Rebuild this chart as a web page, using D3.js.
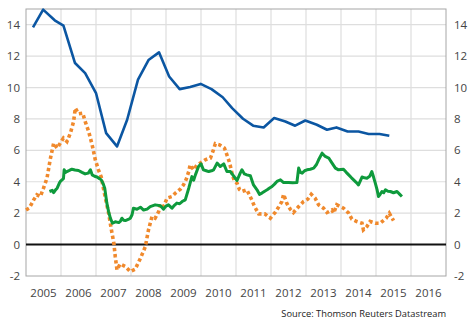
<!DOCTYPE html>
<html><head><meta charset="utf-8">
<script src="https://cdn.jsdelivr.net/npm/d3@7"></script>
<style>body{margin:0;background:#fff}svg{display:block}text{font-family:"Open Sans",sans-serif;fill:#444}</style>
</head><body><svg id="c" width="470" height="322"></svg>
<script>
const yearTicks = [2005,2006,2007,2008,2009,2010,2011,2012,2013,2014,2015,2016];
const valueTicks = [-2,0,2,4,6,8,10,12,14];
const sourceText = "Source: Thomson Reuters Datastream";

const blueSeries = [[2005.2,13.83],[2005.49,14.96],[2005.82,14.28],[2006.07,13.94],[2006.4,11.56],[2006.69,10.92],[2007.0,9.65],[2007.29,7.1],[2007.6,6.25],[2007.89,7.95],[2008.2,10.5],[2008.5,11.75],[2008.8,12.24],[2009.09,10.7],[2009.39,9.9],[2009.69,10.03],[2009.99,10.23],[2010.3,9.9],[2010.62,9.38],[2010.89,8.69],[2011.2,8.01],[2011.49,7.57],[2011.79,7.46],[2012.09,8.06],[2012.41,7.84],[2012.69,7.57],[2012.98,7.9],[2013.31,7.63],[2013.6,7.31],[2013.87,7.46],[2014.19,7.2],[2014.5,7.2],[2014.79,7.04],[2015.1,7.04],[2015.38,6.93]];

const greenSeries = [[2005.67,3.38],[2005.75,3.45],[2005.79,3.31],[2005.85,3.5],[2005.89,3.59],[2005.95,3.9],[2005.98,4.02],[2006.03,4.12],[2006.07,4.2],[2006.09,4.76],[2006.13,4.6],[2006.17,4.65],[2006.24,4.72],[2006.31,4.8],[2006.4,4.75],[2006.5,4.72],[2006.6,4.6],[2006.69,4.5],[2006.78,4.55],[2006.84,4.76],[2006.89,4.44],[2006.96,4.35],[2007.03,4.3],[2007.1,4.2],[2007.15,4.12],[2007.2,3.9],[2007.25,3.59],[2007.31,2.64],[2007.36,2.1],[2007.41,1.68],[2007.47,1.36],[2007.55,1.45],[2007.65,1.4],[2007.7,1.5],[2007.74,1.68],[2007.79,1.55],[2007.84,1.53],[2007.92,1.6],[2007.98,1.68],[2008.03,1.9],[2008.07,2.32],[2008.17,2.25],[2008.27,2.38],[2008.36,2.2],[2008.46,2.26],[2008.55,2.42],[2008.69,2.53],[2008.84,2.47],[2008.93,2.26],[2009.0,2.45],[2009.07,2.53],[2009.17,2.32],[2009.24,2.5],[2009.31,2.64],[2009.39,2.6],[2009.46,2.74],[2009.55,2.85],[2009.65,3.59],[2009.74,4.33],[2009.79,4.1],[2009.84,4.44],[2009.93,4.97],[2010.0,5.14],[2010.07,4.76],[2010.15,4.7],[2010.22,4.65],[2010.3,4.7],[2010.36,4.76],[2010.46,5.19],[2010.55,4.97],[2010.65,5.14],[2010.74,4.65],[2010.84,4.65],[2010.93,4.38],[2011.03,4.08],[2011.12,4.55],[2011.17,4.76],[2011.24,4.5],[2011.31,4.44],[2011.41,4.38],[2011.5,3.8],[2011.6,3.49],[2011.67,3.2],[2011.74,3.28],[2011.82,3.4],[2011.89,3.49],[2011.96,3.6],[2012.03,3.7],[2012.1,3.85],[2012.17,4.02],[2012.27,4.12],[2012.36,3.95],[2012.5,3.95],[2012.62,3.93],[2012.74,3.95],[2012.79,4.87],[2012.84,4.6],[2012.89,4.55],[2012.96,4.7],[2013.03,4.76],[2013.12,4.8],[2013.22,4.87],[2013.3,5.1],[2013.36,5.4],[2013.46,5.82],[2013.55,5.61],[2013.65,5.51],[2013.74,5.2],[2013.84,4.87],[2013.93,4.76],[2014.0,4.78],[2014.07,4.8],[2014.15,4.6],[2014.22,4.44],[2014.3,4.25],[2014.36,4.12],[2014.44,3.95],[2014.5,3.8],[2014.6,4.3],[2014.67,4.25],[2014.74,4.23],[2014.82,4.35],[2014.88,4.65],[2014.93,4.3],[2014.98,3.91],[2015.03,3.5],[2015.07,3.06],[2015.12,3.2],[2015.17,3.38],[2015.22,3.3],[2015.27,3.49],[2015.34,3.4],[2015.41,3.38],[2015.5,3.3],[2015.6,3.38],[2015.68,3.2],[2015.74,3.06]];

const orangeSeries = [[2005.0,2.2],[2005.09,2.32],[2005.16,2.6],[2005.22,2.85],[2005.31,3.17],[2005.41,3.06],[2005.5,3.59],[2005.6,4.23],[2005.69,5.4],[2005.79,6.46],[2005.89,6.14],[2005.98,6.46],[2006.07,6.78],[2006.17,6.56],[2006.27,7.1],[2006.36,7.84],[2006.41,8.69],[2006.5,8.33],[2006.62,8.37],[2006.69,7.84],[2006.79,7.2],[2006.89,6.35],[2006.98,5.4],[2007.07,4.76],[2007.15,4.3],[2007.22,3.49],[2007.29,2.74],[2007.36,2.0],[2007.44,0.94],[2007.51,0.09],[2007.55,-0.76],[2007.6,-1.61],[2007.69,-1.23],[2007.84,-1.4],[2007.98,-1.72],[2008.12,-1.57],[2008.27,-0.87],[2008.41,-0.13],[2008.5,0.94],[2008.6,1.78],[2008.69,1.68],[2008.79,2.1],[2008.86,2.6],[2008.93,2.42],[2009.03,2.96],[2009.17,3.06],[2009.27,3.28],[2009.41,3.53],[2009.5,3.8],[2009.58,4.17],[2009.65,4.65],[2009.69,5.08],[2009.79,4.76],[2009.89,5.08],[2009.98,5.19],[2010.12,5.4],[2010.27,5.51],[2010.34,5.93],[2010.41,6.42],[2010.53,6.35],[2010.67,6.14],[2010.74,5.72],[2010.82,5.19],[2010.89,4.5],[2010.96,4.0],[2011.03,3.91],[2011.1,3.5],[2011.17,3.38],[2011.31,3.49],[2011.45,2.85],[2011.53,2.42],[2011.65,1.95],[2011.82,1.96],[2011.98,1.68],[2012.12,2.05],[2012.22,2.4],[2012.31,2.74],[2012.36,3.2],[2012.45,2.64],[2012.55,2.25],[2012.64,2.04],[2012.79,2.42],[2012.93,2.74],[2013.05,2.89],[2013.15,3.2],[2013.26,2.96],[2013.36,2.53],[2013.5,2.32],[2013.6,2.04],[2013.74,2.2],[2013.79,2.0],[2013.88,2.53],[2014.07,2.32],[2014.22,2.0],[2014.31,1.62],[2014.45,1.47],[2014.6,1.36],[2014.64,0.94],[2014.74,1.15],[2014.83,1.47],[2014.98,1.36],[2015.12,1.36],[2015.29,1.68],[2015.38,2.0],[2015.5,1.53]];

const svg = d3.select("#c");
const L = 26, R = 446, T = 9, B = 276;
const x = d3.scaleLinear().domain([2005, 2017]).range([L, R]);
const y = d3.scaleLinear().domain([-2, 15]).range([B, T]);

// grid
const g = svg.append("g");
g.selectAll(".vg").data(d3.range(2006, 2017)).enter().append("line")
  .attr("x1", d => x(d)).attr("x2", d => x(d)).attr("y1", T).attr("y2", B)
  .attr("stroke", "#dedede").attr("stroke-width", 1.2);
g.selectAll(".hg").data(valueTicks.filter(v => v !== -2 && v !== 0)).enter().append("line")
  .attr("x1", L).attr("x2", R).attr("y1", d => y(d)).attr("y2", d => y(d))
  .attr("stroke", "#dedede").attr("stroke-width", 1.2);

// frame
svg.append("rect").attr("x", L).attr("y", T).attr("width", R - L).attr("height", B - T)
  .attr("fill", "none").attr("stroke", "#a6a6a6").attr("stroke-width", 1);

// zero line
svg.append("line").attr("x1", L).attr("x2", R).attr("y1", y(0)).attr("y2", y(0))
  .attr("stroke", "#111").attr("stroke-width", 2);

const line = d3.line().x(d => x(d[0])).y(d => y(d[1]));

svg.append("path").datum(orangeSeries).attr("d", line).attr("fill", "none")
  .attr("stroke", "#f0892c").attr("stroke-width", 3.6).attr("stroke-dasharray", "3.4,2.8");
svg.append("path").datum(greenSeries).attr("d", line).attr("fill", "none")
  .attr("stroke", "#0e9a3c").attr("stroke-width", 3).attr("stroke-linejoin", "round");
svg.append("path").datum(blueSeries).attr("d", line).attr("fill", "none")
  .attr("stroke", "#0b56a2").attr("stroke-width", 2.6).attr("stroke-linejoin", "round");

// axes labels
const fs = 11.5;
svg.selectAll(".yl").data(valueTicks).enter().append("text")
  .attr("x", 20).attr("y", d => y(d)).attr("dy", "0.35em").attr("text-anchor", "end")
  .attr("font-size", fs).text(d => d);
svg.selectAll(".yr").data(valueTicks).enter().append("text")
  .attr("x", 454).attr("y", d => y(d)).attr("dy", "0.35em").attr("text-anchor", "start")
  .attr("font-size", fs).text(d => d);
svg.selectAll(".xl").data(yearTicks).enter().append("text")
  .attr("x", d => x(d + 0.5)).attr("y", 297).attr("text-anchor", "middle")
  .attr("font-size", fs).text(d => d);
svg.append("text").attr("x", R).attr("y", 317).attr("text-anchor", "end")
  .attr("font-size", 9.3).style("fill", "#222").text(sourceText);
</script></body></html>
